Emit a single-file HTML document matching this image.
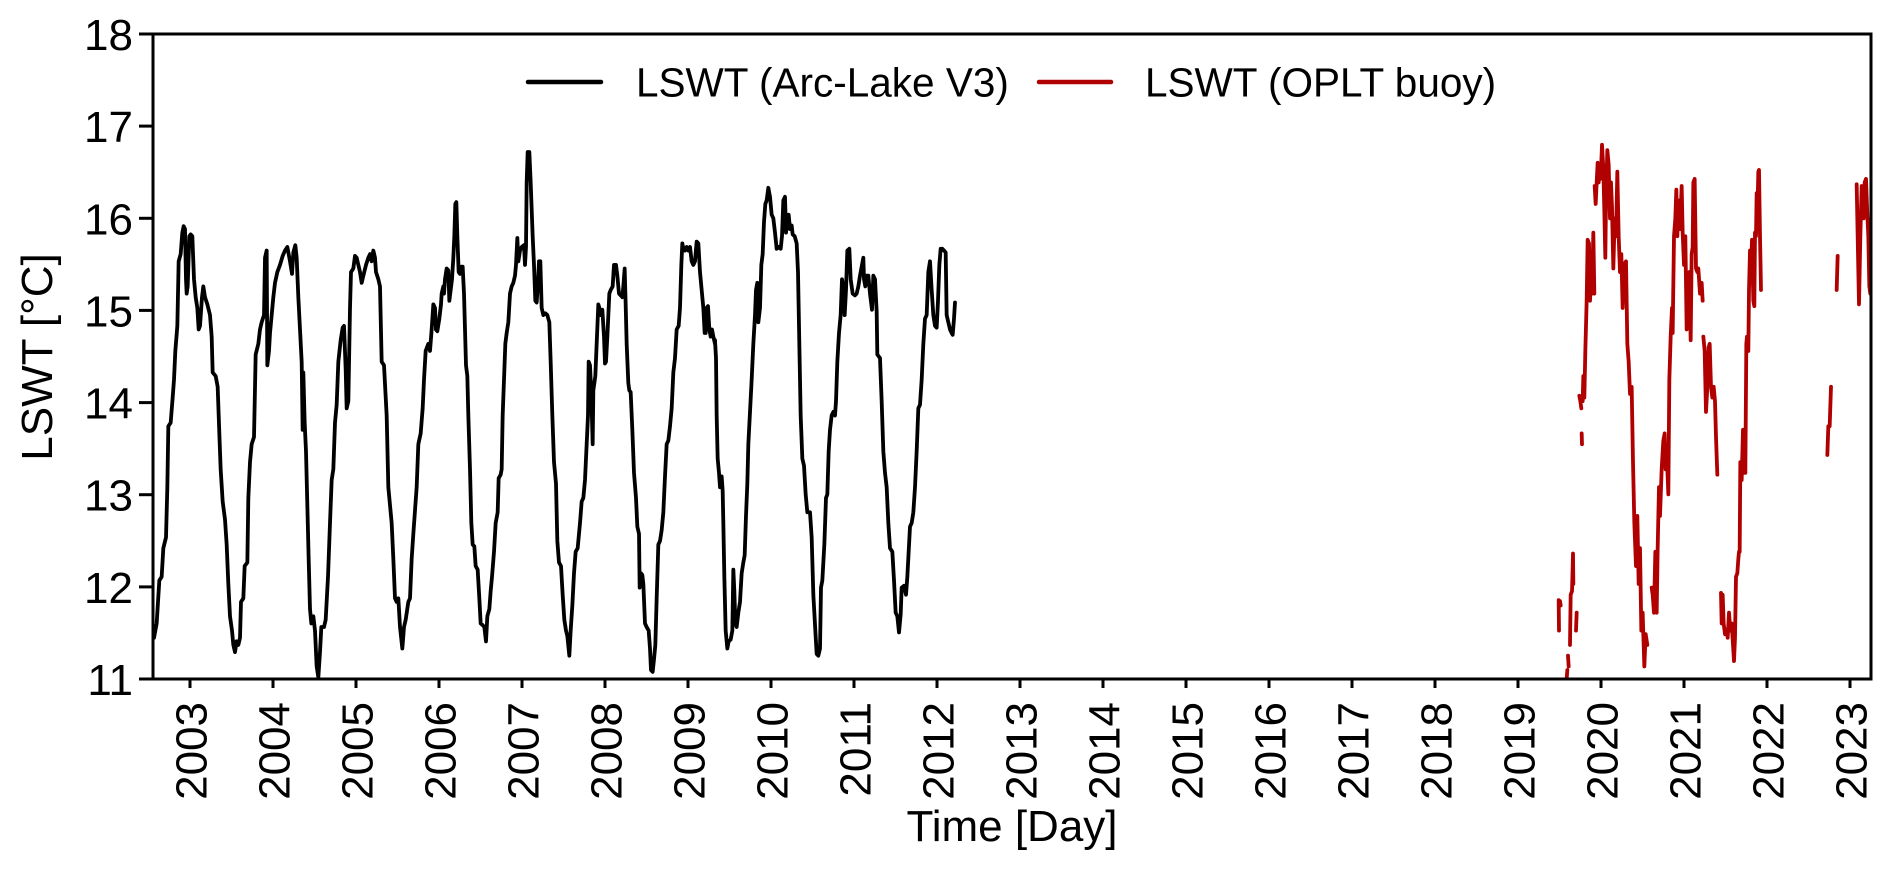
<!DOCTYPE html>
<html>
<head>
<meta charset="utf-8">
<style>
  html,body{margin:0;padding:0;background:#fff;}
  body{width:1892px;height:869px;overflow:hidden;}
  svg{display:block;}
  text{font-family:"Liberation Sans", Arial, sans-serif;fill:#000;}
</style>
</head>
<body>
<svg width="1892" height="869" viewBox="0 0 1892 869" xmlns="http://www.w3.org/2000/svg">
  <defs>
    <clipPath id="plot"><rect x="153" y="34" width="1718" height="645"/></clipPath>
  </defs>
  <rect x="0" y="0" width="1892" height="869" fill="#fff"/>

  <g clip-path="url(#plot)" fill="none" stroke-linejoin="round" stroke-linecap="round">
    <!-- Black series, crop 1 -->
    <g transform="matrix(0.333333 0 0 0.35852 150 128.67)">
      <path vector-effect="non-scaling-stroke" stroke="#000" stroke-width="3.8" d="M12,1420 L20,1380 L28,1260 L35,1250 L40,1170 L48,1140 L52,1000 L55,830 L62,820 L68,750 L72,700 L76,620 L82,550 L86,370 L92,350 L97,290 L101,272 L105,280 L108,420 L110,460 L113,440 L118,300 L122,295 L127,300 L132,420 L137,470 L142,500 L146,560 L150,550 L156,470 L160,440 L165,470 L172,490 L180,520 L185,580 L188,680 L197,690 L203,720 L208,850 L212,950 L218,1040 L225,1090 L230,1160 L235,1270 L240,1360 L246,1400 L250,1440 L255,1460 L260,1430 L265,1440 L270,1420 L273,1320 L280,1310 L284,1220 L292,1210 L295,1030 L300,930 L305,880 L312,860 L317,630 L325,600 L330,560 L335,540 L342,520 L345,360 L350,340 L352,660 L357,620 L360,570 L365,520 L370,470 L375,430 L382,400 L390,380 L398,355 L405,340 L412,330 L420,370 L426,405 L430,345 L436,325 L440,360 L445,470 L450,560 L455,650 L458,840 L460,680 L464,820 L468,900 L472,1050 L476,1200 L480,1340 L484,1380 L490,1360 L495,1400 L500,1500 L505,1530 L510,1460 L514,1390 L522,1390 L527,1370 L534,1250 L540,1100 L545,980 L550,950 L555,820 L560,770 L565,650 L572,590 L578,555 L582,550 L587,670 L590,780 L595,760 L600,500 L603,400 L610,390 L615,355 L620,360 L625,380 L630,400 L635,430 L640,410 L648,380 L655,360 L660,350 L665,370 L670,340 L675,360 L678,400 L685,420 L690,440 L695,650 L702,660 L710,800 L715,1000 L720,1050 L725,1100 L730,1200 L735,1310 L740,1320 L745,1310 L750,1390 L757,1450 L762,1390 L767,1370 L775,1320 L780,1310 L785,1200 L790,1130 L800,1000 L805,880 L812,850 L818,780 L822,700 L827,620 L835,600 L840,620 L845,560 L850,490 L855,500 L858,560"/>
    </g>
    <!-- Black series, crop 2 -->
    <g transform="matrix(0.333333 0 0 0.35852 430 128.67)">
      <path vector-effect="non-scaling-stroke" stroke="#000" stroke-width="3.8" d="M18,560 L22,565 L28,530 L33,490 L35,460 L40,440 L42,460 L45,420 L50,390 L55,395 L58,480 L62,450 L66,420 L70,360 L73,300 L76,210 L79,205 L82,300 L86,400 L90,405 L94,385 L98,385 L102,460 L105,560 L108,660 L112,690 L115,800 L120,950 L124,1100 L128,1160 L133,1165 L137,1220 L143,1230 L148,1310 L152,1380 L158,1385 L163,1390 L168,1430 L172,1360 L178,1340 L182,1290 L186,1250 L192,1180 L197,1100 L203,1070 L206,975 L212,965 L215,950 L218,800 L222,700 L226,600 L230,570 L235,540 L240,460 L245,440 L250,430 L255,410 L258,380 L262,305 L265,370 L270,340 L275,330 L282,325 L285,380 L288,330 L290,150 L293,65 L298,65 L302,150 L308,300 L312,380 L316,480 L320,485 L324,430 L327,370 L331,370 L335,500 L340,520 L346,515 L352,520 L358,540 L362,650 L367,800 L372,930 L378,990 L382,1150 L387,1210 L393,1220 L398,1300 L403,1370 L408,1400 L412,1415 L418,1470 L422,1400 L427,1330 L432,1240 L437,1180 L443,1170 L450,1100 L455,1040 L460,1030 L465,980 L470,880 L474,800 L476,650 L480,660 L484,740 L488,880 L490,730 L496,690 L500,600 L505,490 L508,500 L512,520 L517,505 L522,580 L525,655 L528,650 L532,580 L535,520 L538,460 L542,450 L548,440 L552,380 L558,380 L562,410 L567,460 L572,465 L577,470 L580,440 L584,390 L587,490 L590,600 L595,710 L598,730 L602,735 L607,840 L612,960 L618,1030 L622,1110 L627,1130 L629,1280 L633,1240 L637,1245 L640,1270 L645,1380 L650,1390 L656,1400 L660,1450 L663,1510 L668,1515 L672,1480 L676,1440 L680,1310 L685,1160 L690,1150 L695,1120 L700,1070 L705,970 L710,880 L715,870 L720,830 L725,780 L730,680 L735,640 L740,560 L746,550 L750,500 L754,380 L757,320 L760,335 L765,340 L770,330 L775,340 L780,330 L785,370 L790,380 L795,370 L800,315 L805,320 L810,400 L815,450 L820,500 L824,570 L827,570 L830,500 L834,495 L838,560 L842,580 L846,560 L850,580 L855,600"/>
    </g>
    <!-- Black series, crop 3 -->
    <g transform="matrix(0.333333 0 0 0.35852 710 128.67)">
      <path vector-effect="non-scaling-stroke" stroke="#000" stroke-width="3.8" d="M15,590 L18,640 L20,800 L23,920 L27,960 L30,1000 L35,970 L38,1010 L40,1100 L43,1250 L47,1400 L52,1450 L56,1430 L62,1425 L67,1400 L70,1230 L73,1290 L76,1380 L80,1390 L85,1350 L90,1320 L95,1240 L100,1210 L104,1190 L108,1080 L112,990 L115,880 L120,790 L125,700 L130,600 L135,520 L138,450 L142,430 L145,540 L150,500 L154,380 L158,350 L162,260 L166,210 L170,200 L175,165 L180,190 L185,240 L190,250 L195,290 L200,335 L205,330 L212,335 L216,300 L220,200 L225,190 L228,290 L232,260 L236,240 L240,280 L245,270 L248,295 L254,300 L260,320 L264,400 L268,600 L272,800 L277,920 L282,940 L287,1020 L292,1070 L300,1070 L305,1140 L310,1300 L316,1400 L320,1465 L325,1470 L330,1450 L333,1280 L337,1260 L343,1160 L348,1030 L352,1020 L356,900 L360,840 L365,800 L370,790 L375,800 L378,760 L382,650 L387,570 L392,520 L396,420 L400,440 L404,520 L408,450 L412,340 L418,335 L422,420 L428,460 L435,465 L440,460 L445,440 L450,410 L455,385 L460,360 L462,420 L466,440 L470,410 L475,410 L480,460 L486,505 L490,410 L495,420 L500,510 L502,630 L510,640 L515,760 L520,900 L525,960 L530,1000 L535,1100 L540,1170 L547,1180 L552,1260 L557,1350 L562,1360 L567,1405 L572,1355 L575,1280 L582,1275 L588,1300 L592,1250 L596,1180 L600,1110 L605,1100 L610,1070 L615,1000 L620,900 L625,780 L630,770 L635,700 L640,600 L645,530 L650,520 L655,400 L660,370 L665,450 L670,520 L675,550 L680,555 L684,480 L688,380 L692,335 L697,335 L702,340 L707,345 L710,520 L715,540 L720,560 L725,570 L728,575 L732,530 L735,485"/>
    </g>

    <!-- Red series, crop A -->
    <g transform="matrix(0.333333 0 0 0.35852 1540 128.67)">
      <path vector-effect="non-scaling-stroke" stroke="#b00000" stroke-width="3.8" d="M56,1315 L57,1400 M60,1318 L62,1330 M80,1535 L82,1510 M84,1470 L86,1500 M90,1440 L92,1300 L96,1290 L97,1260 L99,1185 L100,1270 M108,1400 L110,1350 M118,745 L121,760 L124,780 M125,850 L126,880 M128,760 L130,690 L133,750 L136,620 L140,480 L143,310 L147,320 L150,480 L153,420 L156,460 L160,290 L163,460 M164,160 L167,210 L170,150 L173,95 L176,150 L178,100 L182,140 L186,45 L190,110 L193,230 L196,360 L198,200 L202,60 L206,100 L210,250 L213,150 L216,220 L220,390 L224,250 L228,300 L232,120 L236,300 L240,400 L244,350 L248,500 L252,380 L258,370 L262,600 L266,650 L270,740 L275,720 L279,930 L283,1100 L288,1220 L292,1080 L296,1270 L300,1170 L304,1400 L308,1350 L313,1500 L317,1410 L322,1440 M335,1280 L338,1300 L342,1350 L346,1180 L350,1350 L353,1170 L357,1000 L360,1080 L365,950 L370,870 L374,850 L377,950 L380,900 L385,1020 L388,700 L392,580 L396,500 L398,570 L402,300 L406,250 L409,170 L412,300 L415,200 L420,280 L425,160 L428,290 L432,380 L436,300 L440,560 L444,500 L448,400 L452,590 L455,350 L458,330 L460,150 L464,140 L468,390 L472,400 L475,390 L480,460 L485,430 L488,480 M490,580 L494,620 L498,790 L502,720 L506,610"/>
    </g>
    <!-- Red series, crop B -->
    <g transform="matrix(0.333333 0 0 0.35852 1705 128.67)">
      <path vector-effect="non-scaling-stroke" stroke="#b00000" stroke-width="3.8" d="M11,610 L14,600 L18,720 L22,750 L26,720 L30,760 L33,860 L37,965 M48,1295 L50,1380 L53,1300 L56,1380 L60,1410 L65,1400 L68,1420 L72,1350 L76,1400 L80,1380 L84,1440 L87,1485 L90,1420 L93,1250 L97,1240 L100,1200 L102,1180 L104,1180 L106,930 L110,980 L114,840 L118,960 L121,960 L124,600 L126,580 L130,620 L132,450 L135,340 L138,400 L141,310 L145,480 L148,495 L150,290 L153,300 L155,180 L158,200 L160,120 L162,115 L165,300 L168,450 M367,910 L370,830 L374,830 L378,720 M395,450 L398,355 M455,155 L458,300 L462,490 L466,300 L470,160 L473,180 L476,250 L479,150 L483,140 L487,240 L490,300 L493,440 L496,460"/>
    </g>
  </g>

  <!-- Axes frame -->
  <rect x="153" y="34" width="1718" height="645" fill="none" stroke="#000" stroke-width="3"/>

  <!-- Y ticks -->
  <g stroke="#000" stroke-width="3">
    <line x1="139" y1="34" x2="153" y2="34"/>
    <line x1="139" y1="126.1" x2="153" y2="126.1"/>
    <line x1="139" y1="218.3" x2="153" y2="218.3"/>
    <line x1="139" y1="310.4" x2="153" y2="310.4"/>
    <line x1="139" y1="402.6" x2="153" y2="402.6"/>
    <line x1="139" y1="494.7" x2="153" y2="494.7"/>
    <line x1="139" y1="586.9" x2="153" y2="586.9"/>
    <line x1="139" y1="679" x2="153" y2="679"/>
  </g>
  <g font-size="44" text-anchor="end">
    <text x="133" y="50">18</text>
    <text x="133" y="142.1">17</text>
    <text x="133" y="234.3">16</text>
    <text x="133" y="326.4">15</text>
    <text x="133" y="418.6">14</text>
    <text x="133" y="510.7">13</text>
    <text x="133" y="602.9">12</text>
    <text x="133" y="695">11</text>
  </g>

  <!-- X ticks -->
  <g stroke="#000" stroke-width="3">
    <line x1="190" y1="679" x2="190" y2="688"/>
    <line x1="273" y1="679" x2="273" y2="688"/>
    <line x1="356" y1="679" x2="356" y2="688"/>
    <line x1="439" y1="679" x2="439" y2="688"/>
    <line x1="522" y1="679" x2="522" y2="688"/>
    <line x1="605" y1="679" x2="605" y2="688"/>
    <line x1="688" y1="679" x2="688" y2="688"/>
    <line x1="771" y1="679" x2="771" y2="688"/>
    <line x1="854" y1="679" x2="854" y2="688"/>
    <line x1="937" y1="679" x2="937" y2="688"/>
    <line x1="1020" y1="679" x2="1020" y2="688"/>
    <line x1="1103" y1="679" x2="1103" y2="688"/>
    <line x1="1186" y1="679" x2="1186" y2="688"/>
    <line x1="1269" y1="679" x2="1269" y2="688"/>
    <line x1="1352" y1="679" x2="1352" y2="688"/>
    <line x1="1435" y1="679" x2="1435" y2="688"/>
    <line x1="1518" y1="679" x2="1518" y2="688"/>
    <line x1="1601" y1="679" x2="1601" y2="688"/>
    <line x1="1684" y1="679" x2="1684" y2="688"/>
    <line x1="1767" y1="679" x2="1767" y2="688"/>
    <line x1="1850" y1="679" x2="1850" y2="688"/>
  </g>
  <g font-size="44" text-anchor="end">
    <text transform="translate(206.5,702) rotate(-90)">2003</text>
    <text transform="translate(289.5,702) rotate(-90)">2004</text>
    <text transform="translate(372.5,702) rotate(-90)">2005</text>
    <text transform="translate(455.5,702) rotate(-90)">2006</text>
    <text transform="translate(538.5,702) rotate(-90)">2007</text>
    <text transform="translate(621.5,702) rotate(-90)">2008</text>
    <text transform="translate(704.5,702) rotate(-90)">2009</text>
    <text transform="translate(787.5,702) rotate(-90)">2010</text>
    <text transform="translate(870.5,702) rotate(-90)">2011</text>
    <text transform="translate(953.5,702) rotate(-90)">2012</text>
    <text transform="translate(1036.5,702) rotate(-90)">2013</text>
    <text transform="translate(1119.5,702) rotate(-90)">2014</text>
    <text transform="translate(1202.5,702) rotate(-90)">2015</text>
    <text transform="translate(1285.5,702) rotate(-90)">2016</text>
    <text transform="translate(1368.5,702) rotate(-90)">2017</text>
    <text transform="translate(1451.5,702) rotate(-90)">2018</text>
    <text transform="translate(1534.5,702) rotate(-90)">2019</text>
    <text transform="translate(1617.5,702) rotate(-90)">2020</text>
    <text transform="translate(1700.5,702) rotate(-90)">2021</text>
    <text transform="translate(1783.5,702) rotate(-90)">2022</text>
    <text transform="translate(1866.5,702) rotate(-90)">2023</text>
  </g>

  <!-- Axis titles -->
  <text x="1012" y="841" font-size="44" text-anchor="middle">Time [Day]</text>
  <text transform="translate(52,357) rotate(-90)" font-size="44" text-anchor="middle">LSWT [°C]</text>

  <!-- Legend -->
  <line x1="528" y1="82" x2="601" y2="82" stroke="#000" stroke-width="4.5" stroke-linecap="round"/>
  <text x="636" y="96.5" font-size="40.5">LSWT (Arc-Lake V3)</text>
  <line x1="1039" y1="82" x2="1111" y2="82" stroke="#b00000" stroke-width="4.5" stroke-linecap="round"/>
  <text x="1145" y="96.5" font-size="40.5">LSWT (OPLT buoy)</text>
</svg>
</body>
</html>
